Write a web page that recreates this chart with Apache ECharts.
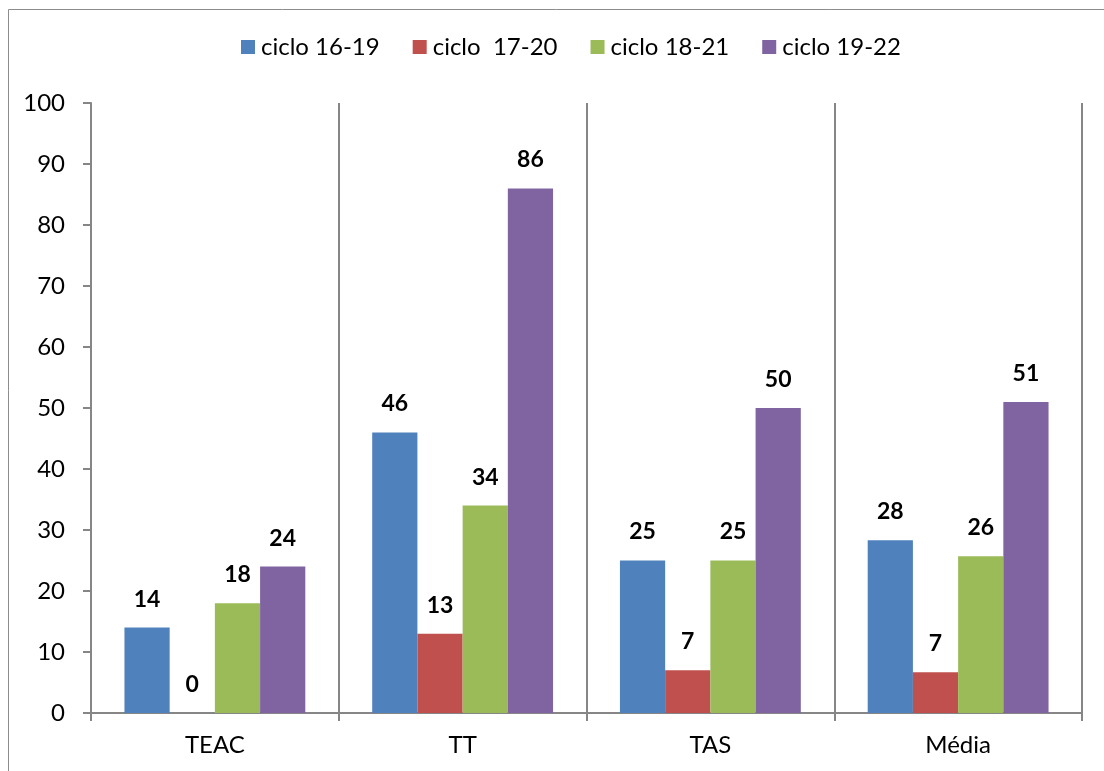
<!DOCTYPE html>
<html>
<head>
<meta charset="utf-8">
<script src="https://cdn.jsdelivr.net/npm/echarts@6/dist/echarts.min.js"></script>
<style>
  html, body { margin: 0; padding: 0; background: #fff; }
  #chart { width: 1104px; height: 771px; }
</style>
</head>
<body>
<div id="chart"></div>
<script>
// dados
const categories = ['TEAC', 'TT', 'TAS', 'Média']
const seriesNames = ['ciclo 16-19', 'ciclo  17-20', 'ciclo 18-21', 'ciclo 19-22']
const ciclo1619 = [14, 46, 25, 28.3]
const ciclo1720 = [0, 13, 7, 6.7]
const ciclo1821 = [18, 34, 25, 25.7]
const ciclo1922 = [24, 86, 50, 51]
const yTicks = [0, 10, 20, 30, 40, 50, 60, 70, 80, 90, 100]

const colors = ['#4f81bd', '#c0504d', '#9bbb59', '#8064a2']
const fontFamily = 'Lato, "Open Sans", sans-serif'

const chart = echarts.init(document.getElementById('chart'))

const makeSeries = (name, data, i) => ({
  name,
  type: 'bar',
  data,
  barGap: 0,
  barCategoryGap: '27%',
  itemStyle: { color: colors[i] },
  label: {
    show: true,
    position: 'top',
    distance: 17,
    fontFamily,
    fontSize: 23,
    fontWeight: 'bold',
    color: '#000',
    formatter: (p) => Math.round(p.value)
  }
})

chart.setOption({
  animation: false,
  textStyle: { fontFamily },
  graphic: [
    {
      type: 'rect',
      shape: { x: 8.5, y: 9.5, width: 1110, height: 800 },
      style: { fill: 'none', stroke: '#8c8c8c', lineWidth: 1 },
      silent: true
    }
  ],
  legend: {
    top: 30,
    left: 236,
    itemWidth: 14,
    itemHeight: 14,
    itemGap: 33,
    icon: 'rect',
    textStyle: { fontFamily, fontSize: 24, color: '#000', padding: [0, 0, 0, 1] },
    data: seriesNames
  },
  grid: { left: 91, right: 22, top: 103, bottom: 58 },
  xAxis: {
    type: 'category',
    data: categories,
    axisLine: { lineStyle: { color: '#868686', width: 2 } },
    axisTick: { show: true, length: 8, lineStyle: { color: '#868686', width: 2 } },
    axisLabel: { fontFamily, fontSize: 24, color: '#000', margin: 20 },
    splitLine: { show: true, lineStyle: { color: '#868686', width: 2 } }
  },
  yAxis: {
    type: 'value',
    min: yTicks[0],
    max: yTicks[yTicks.length - 1],
    interval: 10,
    axisLine: { show: true, lineStyle: { color: '#868686', width: 2 } },
    axisTick: { show: true, length: 8, lineStyle: { color: '#868686', width: 2 } },
    axisLabel: { fontFamily, fontSize: 24, color: '#000', margin: 26 },
    splitLine: { show: false }
  },
  series: [
    makeSeries(seriesNames[0], ciclo1619, 0),
    makeSeries(seriesNames[1], ciclo1720, 1),
    makeSeries(seriesNames[2], ciclo1821, 2),
    makeSeries(seriesNames[3], ciclo1922, 3)
  ]
})
</script>
</body>
</html>
